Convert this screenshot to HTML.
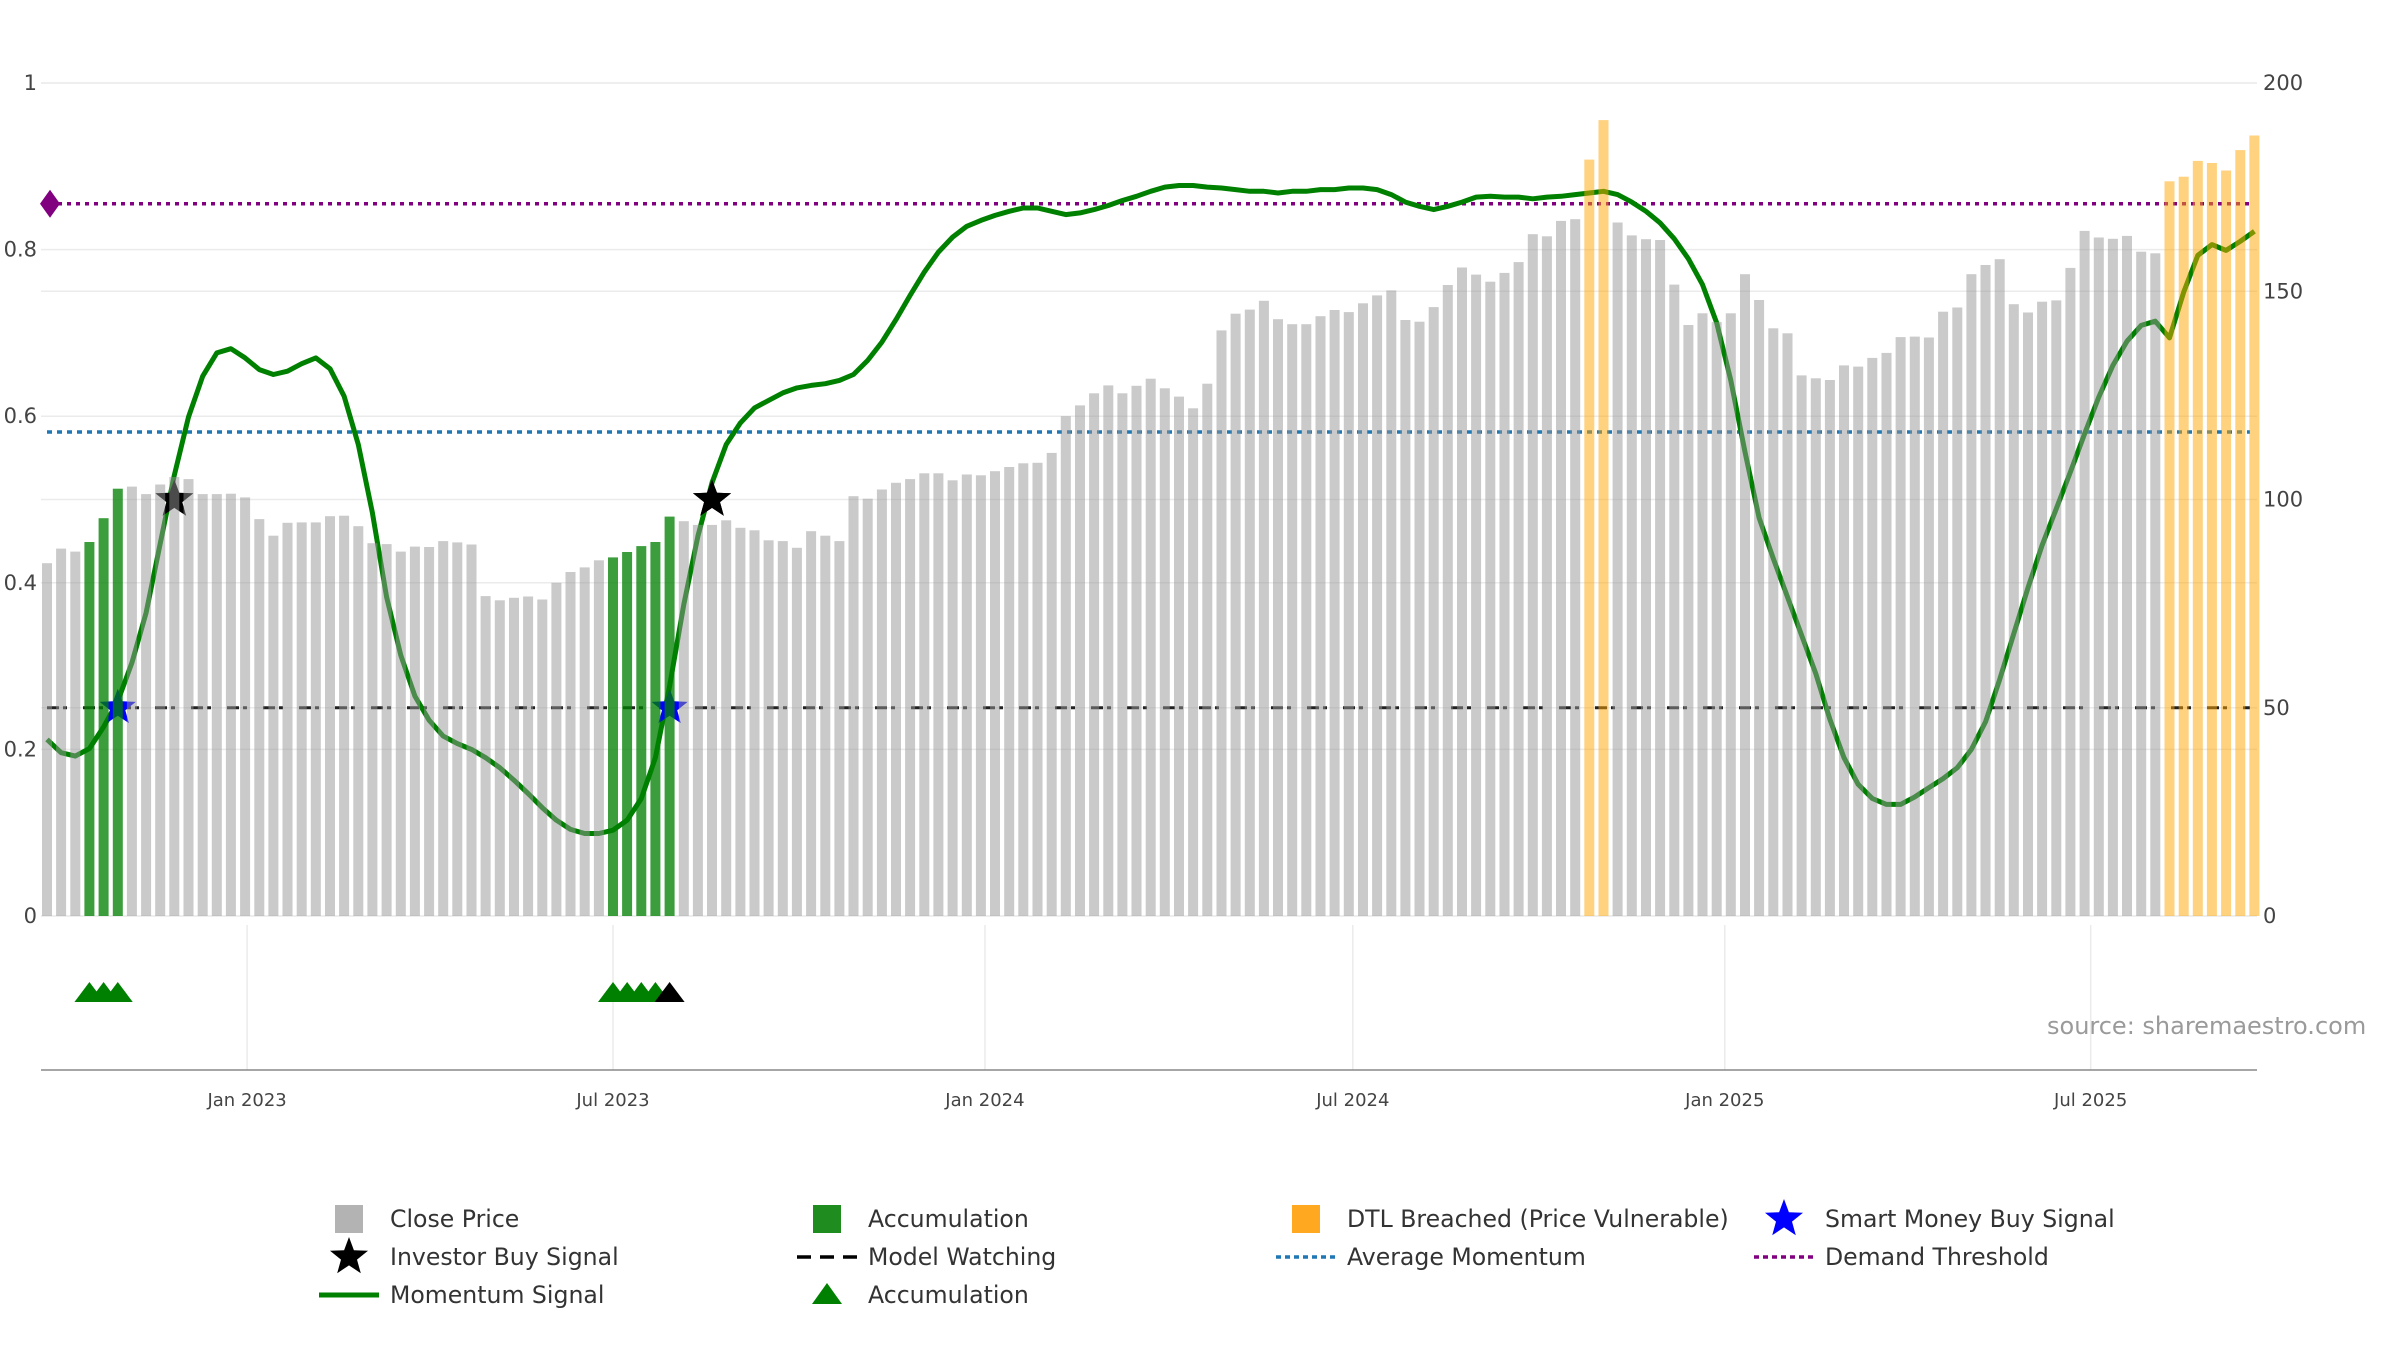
<!DOCTYPE html>
<html><head><meta charset="utf-8"><style>
html,body{margin:0;padding:0;background:#fff;}
body{width:2400px;height:1350px;overflow:hidden;font-family:"Liberation Sans","DejaVu Sans",sans-serif;}
svg text{font-family:"DejaVu Sans","Liberation Sans",sans-serif;}
</style></head><body>
<svg id="chart" width="2400" height="1350" viewBox="0 0 2400 1350" xmlns="http://www.w3.org/2000/svg"></svg>
<script>
const closePrice=[84.7,88.2,87.5,89.8,95.5,102.6,103.1,101.3,103.6,105.4,104.9,101.3,101.3,101.4,100.5,95.3,91.3,94.4,94.5,94.5,96.0,96.1,93.6,89.5,89.3,87.5,88.7,88.6,90.0,89.7,89.2,76.8,75.8,76.4,76.7,76.0,80.0,82.6,83.7,85.4,86.1,87.4,88.8,89.8,95.9,94.8,93.9,93.9,95.0,93.2,92.6,90.2,90.0,88.4,92.4,91.3,90.0,100.8,100.2,102.4,104.0,104.9,106.3,106.3,104.6,106.0,105.8,106.8,107.8,108.7,108.8,111.2,120.0,122.6,125.5,127.4,125.5,127.3,129.0,126.7,124.7,121.9,127.8,140.6,144.6,145.6,147.7,143.3,142.1,142.1,144.0,145.5,145.0,147.1,149.0,150.2,143.1,142.7,146.2,151.5,155.7,154.0,152.3,154.4,157.0,163.7,163.2,166.9,167.3,181.6,191.1,166.5,163.4,162.5,162.3,151.6,141.9,144.7,142.6,144.7,154.1,147.9,141.1,139.9,129.8,129.1,128.7,132.2,131.9,134.0,135.2,139.0,139.1,138.9,145.1,146.1,154.1,156.3,157.7,146.9,144.9,147.5,147.8,155.6,164.5,162.9,162.6,163.3,159.5,159.1,176.4,177.5,181.3,180.8,179.0,183.9,187.4];
const momentum=[0.212,0.196,0.192,0.201,0.227,0.258,0.304,0.364,0.447,0.529,0.599,0.648,0.676,0.681,0.670,0.656,0.650,0.654,0.663,0.670,0.657,0.624,0.566,0.484,0.383,0.313,0.264,0.235,0.216,0.207,0.200,0.190,0.178,0.163,0.147,0.130,0.115,0.104,0.099,0.099,0.103,0.115,0.141,0.190,0.276,0.374,0.456,0.520,0.566,0.592,0.610,0.619,0.628,0.634,0.637,0.639,0.643,0.650,0.667,0.689,0.716,0.745,0.773,0.797,0.815,0.828,0.835,0.841,0.846,0.850,0.850,0.846,0.842,0.844,0.848,0.853,0.859,0.864,0.870,0.875,0.877,0.877,0.875,0.874,0.872,0.870,0.870,0.868,0.870,0.870,0.872,0.872,0.874,0.874,0.872,0.866,0.857,0.852,0.848,0.852,0.857,0.863,0.864,0.863,0.863,0.861,0.863,0.864,0.866,0.868,0.870,0.866,0.857,0.846,0.832,0.813,0.789,0.758,0.712,0.643,0.557,0.478,0.429,0.383,0.337,0.291,0.236,0.190,0.158,0.141,0.134,0.134,0.143,0.154,0.165,0.178,0.200,0.233,0.284,0.339,0.394,0.445,0.489,0.533,0.579,0.623,0.661,0.690,0.709,0.714,0.694,0.749,0.793,0.806,0.799,0.810,0.822];
const accumulationBars=[3,4,5,40,41,42,43,44];
const dtlBars=[109,110,150,151,152,153,154,155,156];
const investorStars=[9,47];
const investorStarLevel=0.5;
const smartMoneyStars=[5,44];
const accTriangles=[3,4,5,40,41,42,43];
const watchTriangles=[44];
const demandThreshold=0.855;
const avgMomentum=0.581;
const modelWatching=0.25;
const leftTicks=[0,0.2,0.4,0.6,0.8,1];
const leftTickLabels=["0","0.2","0.4","0.6","0.8","1"];
const rightTicks=[0,50,100,150,200];
const dateTicks=["2023-01-01","2023-07-01","2024-01-01","2024-07-01","2025-01-01","2025-07-01"];
const dateTickLabels=["Jan 2023","Jul 2023","Jan 2024","Jul 2024","Jan 2025","Jul 2025"];
const startDate="2022-09-24";

const NS="http://www.w3.org/2000/svg";
const svg=document.getElementById('chart');
const L=41,R=2257,T=83,B=916;
const t0=Date.parse(startDate);
function xDay(d){return 47+d*(14.15/7);}
function xBar(i){return xDay(i*7);}
function xDate(s){return xDay((Date.parse(s)-t0)/86400000);}
function yL(v){return B-v*(B-T);}
function yR(v){return B-v/200*(B-T);}
function mk(tag,attrs,parent){const e=document.createElementNS(NS,tag);for(const k in attrs)e.setAttribute(k,attrs[k]);(parent||svg).appendChild(e);return e;}
function starPts(cx,cy,r){let p=[];for(let k=0;k<10;k++){const a=-Math.PI/2+k*Math.PI/5;const rr=k%2?r*0.42:r;p.push((cx+rr*Math.cos(a)).toFixed(1)+','+(cy+rr*Math.sin(a)).toFixed(1));}return p.join(' ');}

leftTicks.forEach((v,k)=>{
  const g=mk('line',{x1:L,x2:R,y1:yL(v),y2:yL(v),stroke:'#ebebeb','stroke-width':1.5});
  
  
  const t=mk('text',{x:37,y:yL(v)+7,'text-anchor':'end','font-size':21,fill:'#444'});
  t.textContent=leftTickLabels[k];
  
  
});
rightTicks.forEach(v=>{
  const g=mk('line',{x1:L,x2:R,y1:yR(v),y2:yR(v),stroke:'#ebebeb','stroke-width':1.5});
  
  
  const t=mk('text',{x:2263,y:yR(v)+7,'text-anchor':'start','font-size':21,fill:'#444'});
  t.textContent=String(v);
  
  
});
dateTicks.forEach((d,k)=>{
  const x=xDate(d);
  const g=mk('line',{x1:x,x2:x,y1:925,y2:1070,stroke:'#ebebeb','stroke-width':1.5});
  
  
  const t=mk('text',{x:x,y:1106,'text-anchor':'middle','font-size':18,fill:'#444'});
  t.textContent=dateTickLabels[k];
  
  
});
const ax=mk('line',{x1:L,x2:R,y1:1070,y2:1070,stroke:'#888','stroke-width':1.5});



const dl=mk('line',{x1:L+8,x2:2250,y1:yL(demandThreshold),y2:yL(demandThreshold),stroke:'#800080','stroke-width':3.5,'stroke-dasharray':'4,5'});


const dd=mk('polygon',{points:`${L+9},${yL(demandThreshold)-14} ${L+19},${yL(demandThreshold)} ${L+9},${yL(demandThreshold)+14} ${L-1},${yL(demandThreshold)}`,fill:'#800080'});


const al=mk('line',{x1:L+6,x2:2250,y1:yL(avgMomentum),y2:yL(avgMomentum),stroke:'#1f77b4','stroke-width':3.5,'stroke-dasharray':'5,5'});


const ml=mk('line',{x1:L+6,x2:2250,y1:yL(modelWatching),y2:yL(modelWatching),stroke:'#222','stroke-width':3,'stroke-dasharray':'12,4,4,16'});



const mp=mk('polyline',{points:momentum.map((v,i)=>xBar(i).toFixed(1)+','+yL(v).toFixed(1)).join(' '),fill:'none',stroke:'#008000','stroke-width':5,'stroke-linejoin':'round'});



smartMoneyStars.forEach(i=>{
  const s=mk('polygon',{points:starPts(xBar(i),yL(modelWatching),19),fill:'#0000ff'});
  
  
});
investorStars.forEach(i=>{
  const s=mk('polygon',{points:starPts(xBar(i),yL(investorStarLevel),20),fill:'#000'});
  
  
});

closePrice.forEach((v,i)=>{
  let fill='rgba(150,150,150,0.5)';
  if(accumulationBars.includes(i))fill='rgba(0,128,0,0.77)';
  if(dtlBars.includes(i))fill='rgba(255,165,0,0.5)';
  const b=mk('rect',{x:(xBar(i)-5).toFixed(1),y:yR(v).toFixed(1),width:10,height:(B-yR(v)).toFixed(1),fill:fill});
  
  
});
investorStars.forEach(i=>{
  if(yL(investorStarLevel)<yR(closePrice[i])-5){
    const s=mk('polygon',{points:starPts(xBar(i),yL(investorStarLevel),20),fill:'#000'});
    
    
  }
});

accTriangles.forEach(i=>{
  const x=xBar(i);
  const t=mk('polygon',{points:`${x-15},1002 ${x},982 ${x+15},1002`,fill:'#008000'});
  
  
});
watchTriangles.forEach(i=>{
  const x=xBar(i);
  const t=mk('polygon',{points:`${x-15},1002 ${x},982 ${x+15},1002`,fill:'#000'});
  
  
});

const src=mk('text',{x:2047,y:1034,'font-size':24,fill:'#9a9a9a'});
src.textContent='source: sharemaestro.com';



const lg=mk('g',{});


const rows=[1219,1257,1295];
const cols=[[349,390],[827,868],[1306,1347],[1784,1825]];
function ltext(c,r,s){const t=mk('text',{x:cols[c][1],y:rows[r]+8,'font-size':23.6,fill:'#333'},lg);t.textContent=s;return t;}
function lsq(c,r,f){const e=mk('rect',{x:cols[c][0]-14,y:rows[r]-14,width:28,height:28,fill:f},lg);}
lsq(0,0,'#b3b3b3');ltext(0,0,'Close Price');
lsq(1,0,'#1f8c1f');ltext(1,0,'Accumulation');
lsq(2,0,'#ffa820');ltext(2,0,'DTL Breached (Price Vulnerable)');
let e=mk('polygon',{points:starPts(cols[3][0],rows[0],20),fill:'#0000ff'},lg);ltext(3,0,'Smart Money Buy Signal');
e=mk('polygon',{points:starPts(cols[0][0],rows[1],20),fill:'#000'},lg);ltext(0,1,'Investor Buy Signal');
e=mk('line',{x1:cols[1][0]-30,x2:cols[1][0]+30,y1:rows[1],y2:rows[1],stroke:'#000','stroke-width':3.5,'stroke-dasharray':'14,9'},lg);ltext(1,1,'Model Watching');
e=mk('line',{x1:cols[2][0]-30,x2:cols[2][0]+30,y1:rows[1],y2:rows[1],stroke:'#1f77b4','stroke-width':3.5,'stroke-dasharray':'5,4'},lg);ltext(2,1,'Average Momentum');
e=mk('line',{x1:cols[3][0]-30,x2:cols[3][0]+30,y1:rows[1],y2:rows[1],stroke:'#800080','stroke-width':3.5,'stroke-dasharray':'5,4'},lg);ltext(3,1,'Demand Threshold');
e=mk('line',{x1:cols[0][0]-30,x2:cols[0][0]+30,y1:rows[2],y2:rows[2],stroke:'#008000','stroke-width':5},lg);ltext(0,2,'Momentum Signal');
e=mk('polygon',{points:`${cols[1][0]-15},${rows[2]+9} ${cols[1][0]},${rows[2]-12} ${cols[1][0]+15},${rows[2]+9}`,fill:'#008000'},lg);ltext(1,2,'Accumulation');
</script>
</body></html>
